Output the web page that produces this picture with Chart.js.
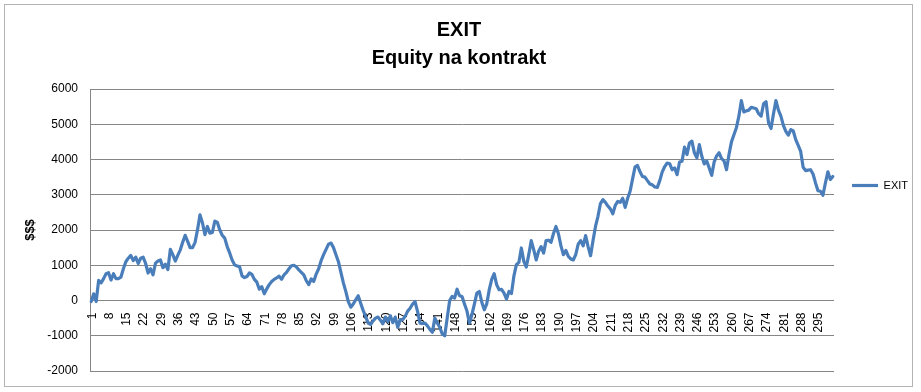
<!DOCTYPE html>
<html>
<head>
<meta charset="utf-8">
<title>EXIT - Equity na kontrakt</title>
<script src="https://cdn.jsdelivr.net/npm/chart.js@4.4.0/dist/chart.umd.min.js"></script>
<style>
    html, body { margin: 0; padding: 0; background: #fff; }
</style>
</head>
<body>
<canvas id="equityChart" width="921" height="392"></canvas>
<script>
// equity per trade
var equity = [
    -30, 190, -30, 570, 500, 620, 760, 790, 580, 760,
    620, 620, 660, 900, 1100, 1200, 1280, 1130, 1230, 1050,
    1200, 1230, 1050, 780, 900, 730, 1060, 1120, 1150, 930,
    1030, 880, 1450, 1300, 1120, 1280, 1430, 1650, 1850, 1680,
    1500, 1500, 1650, 2010, 2430, 2200, 1870, 2100, 1910, 1930,
    2250, 2220, 2000, 1850, 1770, 1530, 1350, 1150, 1010, 980,
    960, 700, 650, 680, 780, 740, 600, 520, 320, 390,
    190, 330, 450, 540, 600, 640, 690, 600, 730, 800,
    900, 985, 1000, 950, 870, 800, 730, 560, 450, 610,
    540, 750, 900, 1130, 1300, 1450, 1600, 1630, 1500, 1300,
    1100, 800, 500, 250, -30, -190, -100, 20, 135, -75,
    -280, -450, -640, -680, -580, -500, -470, -560, -660, -470,
    -600, -435, -630, -470, -760, -540, -540, -450, -300, -220,
    -100, -30, -310, -640, -650, -640, -720, -820, -900, -500,
    -640, -760, -950, -1000, -500, 0, 115, 70, 320, 135,
    115, -100, -300, -640, -400, -100, 210, 255, -50, -265,
    -95, 300, 600, 760, 450, 305, 315, 210, 40, 255,
    200, 700, 1015, 1080, 1490, 1110, 950, 1300, 1700, 1440,
    1150, 1400, 1530, 1345, 1700, 1710, 1650, 1900, 2100, 1895,
    1555, 1300, 1420, 1250, 1180, 1150, 1300, 1600, 1700, 1550,
    1840, 1530, 1270, 1700, 2100, 2390, 2750, 2860, 2785, 2680,
    2600, 2460, 2700, 2810, 2785, 2900, 2640, 2900, 3100, 3450,
    3790, 3830, 3650, 3520, 3500, 3400, 3305, 3280, 3220, 3210,
    3400, 3650, 3800, 3900, 3880, 3710, 3760, 3570, 3930, 3950,
    4350, 4140, 4470, 4520, 4190, 4045, 4420, 4090, 3875, 3960,
    3760, 3550, 3930, 4100, 4190, 4025, 3960, 3710, 4140, 4500,
    4700, 4900, 5230, 5670, 5350, 5380, 5400, 5480, 5460, 5440,
    5300, 5230, 5580, 5640, 5040, 4880, 5300, 5670, 5400, 5230,
    4970, 4800, 4690, 4850, 4810, 4565, 4400, 4230, 3780, 3685,
    3700, 3710, 3590, 3335, 3115, 3100, 2985, 3335, 3650, 3430, 3520
];

// trade numbers on the category axis
var trades = [];
for (var n = 1; n <= equity.length; n++) {
    trades.push(String(n));
}

// excel only prints every 7th category
var shownTrades = ['1', '8', '15', '22', '29', '36', '43', '50', '57', '64', '71', '78', '85',
    '92', '99', '106', '113', '120', '127', '134', '141', '148', '155', '162', '169', '176',
    '183', '190', '197', '204', '211', '218', '225', '232', '239', '246', '253', '260', '267',
    '274', '281', '288', '295'];

var yMin = -2000;
var yMax = 6000;
var yStep = 1000;

var chartTitle = ['EXIT', 'Equity na kontrakt'];
var seriesName = 'EXIT';
var yTitle = '$$$';

var fontFamily = '"Liberation Sans", Arial, sans-serif';
var gridColor = '#868686';
var lineColor = '#4a7ebb';

// chart frame like the excel chart object
var chartFrame = {
    id: 'chartFrame',
    beforeDraw: function(chart) {
        var ctx = chart.ctx;
        ctx.save();
        ctx.fillStyle = '#fff';
        ctx.fillRect(0, 0, chart.width, chart.height);
        ctx.strokeStyle = '#b4b4b4';
        ctx.lineWidth = 1;
        ctx.strokeRect(4.5, 4.5, 908, 382);
        ctx.restore();
    }
};

// category labels sit on the zero line, not under the plot
var zeroLineLabels = {
    id: 'zeroLineLabels',
    beforeDatasetsDraw: function(chart) {
        var ctx = chart.ctx;
        var xScale = chart.scales.x;
        var y0 = chart.scales.y.getPixelForValue(0);
        ctx.save();
        ctx.font = '12px ' + fontFamily;
        ctx.fillStyle = '#000';
        ctx.textAlign = 'right';
        ctx.textBaseline = 'middle';
        for (var k = 0; k < shownTrades.length; k++) {
            var idx = trades.indexOf(shownTrades[k]);
            ctx.save();
            ctx.translate(xScale.getPixelForValue(idx) + 1, y0 + 12);
            ctx.rotate(-Math.PI / 2);
            ctx.fillText(shownTrades[k], 0, 0);
            ctx.restore();
        }
        ctx.restore();
    }
};

new Chart(document.getElementById('equityChart'), {
    type: 'line',
    data: {
        labels: trades,
        datasets: [{
            label: seriesName,
            data: equity,
            borderColor: lineColor,
            backgroundColor: lineColor,
            borderWidth: 3.2,
            pointRadius: 0,
            tension: 0,
            borderJoinStyle: 'round',
            borderCapStyle: 'round'
        }]
    },
    options: {
        responsive: false,
        animation: false,
        layout: {
            padding: { left: 0, right: 3, top: 0, bottom: 21 }
        },
        plugins: {
            title: {
                display: true,
                text: chartTitle,
                color: '#000',
                font: { family: fontFamily, size: 20, weight: 'bold', lineHeight: 1.4 },
                padding: { top: 16, bottom: 17 }
            },
            legend: {
                position: 'right',
                labels: {
                    usePointStyle: true,
                    pointStyle: 'line',
                    pointStyleWidth: 26,
                    boxHeight: 11,
                    padding: 18,
                    color: '#000',
                    font: { family: fontFamily, size: 11 }
                }
            },
            tooltip: { enabled: false }
        },
        scales: {
            x: {
                display: false,
                offset: true
            },
            y: {
                min: yMin,
                max: yMax,
                ticks: {
                    stepSize: yStep,
                    color: '#000',
                    padding: 12,
                    font: { family: fontFamily, size: 12 },
                    callback: function(value) {
                        return String(value);
                    }
                },
                grid: {
                    color: gridColor,
                    drawTicks: false
                },
                border: { color: gridColor },
                title: {
                    display: true,
                    text: yTitle,
                    color: '#000',
                    font: { family: fontFamily, size: 13, weight: 'bold' },
                    padding: { top: 23, bottom: 0 }
                },
                afterFit: function(scale) {
                    scale.width = 90;
                }
            }
        }
    },
    plugins: [chartFrame, zeroLineLabels]
});
</script>
</body>
</html>
